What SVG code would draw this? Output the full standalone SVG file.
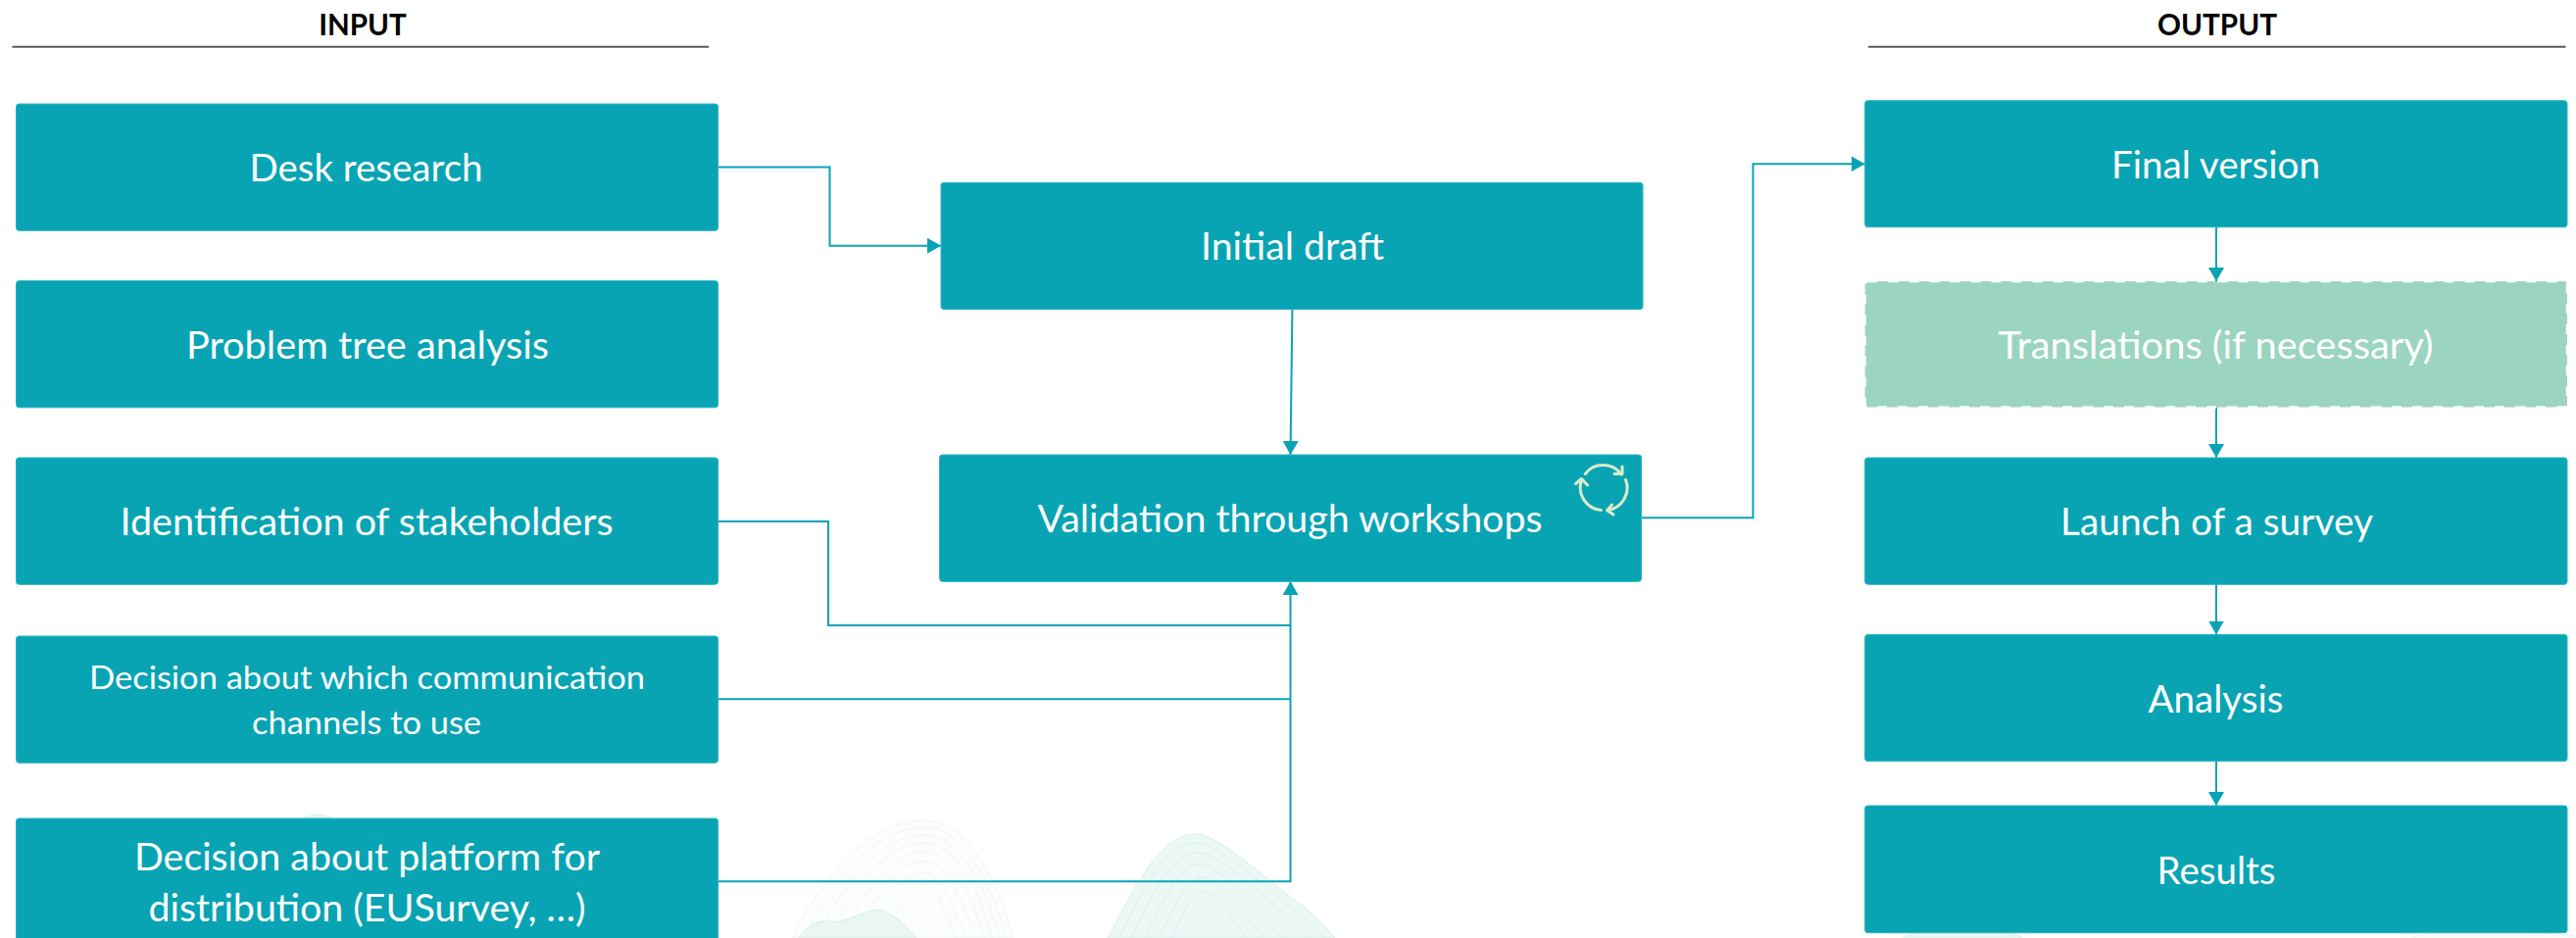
<svg xmlns="http://www.w3.org/2000/svg" width="2628" height="957" viewBox="0 0 2628 957">
<style>
.box{fill:#09a4b4;stroke:#2bb3c1;stroke-width:1}
.soft{fill:#9bd5c0;stroke:#ffffff;stroke-width:2.5;stroke-dasharray:10 11}
.lbl{font-family:"Lato","Carlito","Liberation Sans",sans-serif;font-weight:400;font-size:38px;fill:#ffffff;text-anchor:middle}
.sm{font-size:33px}
.hd{font-family:"Lato","Liberation Sans",sans-serif;font-weight:700;font-size:30px;fill:#000000;text-anchor:middle}
.rule{stroke:#595959;stroke-width:2;fill:none}
.cn{fill:none;stroke:#09a4b4;stroke-width:2}
.ah{fill:#09a4b4}
.hill1{fill:none;stroke:#eef6f3;stroke-width:1}
.hill2{fill:none;stroke:#d9f0ec;stroke-width:1}
.fill1{fill:#fcfefd;stroke:#eef6f3;stroke-width:1}
.fill2{fill:#ecf8f5;stroke:#d9f0ec;stroke-width:1}
.fill3{fill:#e9f6f4;stroke:#d6eeea;stroke-width:1}
.loop{fill:none;stroke:#dcebc6;stroke-width:3;stroke-linecap:round;stroke-linejoin:round}
</style>
<defs>
<marker id="arr" markerUnits="userSpaceOnUse" markerWidth="15" markerHeight="16" refX="14" refY="8" orient="auto"><path class="ah" d="M0 0L14 8L0 16Z"/></marker>
</defs>
<g id="background">
<path class="fill1" d="M808 957C835 900 885 837 942 837C985 837 1015 890 1034 957Z"/>
<path class="hill1" d="M820 957C848 903 890 844 942 844C982 844 1009 895 1027 957"/>
<path class="hill1" d="M832 957C858 908 895 852 942 852C979 852 1003 900 1020 957"/>
<path class="hill1" d="M845 957C868 913 900 860 942 860C975 860 997 905 1012 957"/>
<path class="hill1" d="M858 957C878 918 905 869 942 869C971 869 990 910 1004 957"/>
<path class="hill1" d="M872 957C888 925 913 879 942 879C966 879 982 918 995 957"/>
<path class="hill1" d="M886 957C900 930 920 890 942 890C960 890 973 925 985 957"/>
<path class="hill1" d="M900 957C912 936 928 902 942 902C955 902 964 932 975 957"/>
<path class="fill3" d="M815 957C822 945 835 938 845 940C860 943 875 932 895 928C910 930 925 945 935 957Z"/>
<path class="fill2" d="M1130 957C1160 900 1185 851 1220 851C1245 851 1300 905 1330 925C1345 938 1355 948 1362 957Z"/>
<path class="hill2" d="M1142 957C1168 903 1190 860 1221 860C1245 860 1295 910 1325 932C1337 941 1346 950 1351 957"/>
<path class="hill2" d="M1154 957C1178 908 1196 870 1222 870C1245 870 1290 915 1318 940C1327 946 1334 952 1339 957"/>
<path class="hill2" d="M1168 957C1188 915 1203 882 1224 882C1242 882 1278 922 1308 957"/>
<path class="hill2" d="M1182 957C1198 925 1210 895 1226 895C1242 895 1266 930 1290 957"/>
<path class="hill2" d="M1196 957C1205 932 1217 910 1228 910C1240 910 1256 935 1272 957"/>
<path class="fill2" d="M310 836C318 830 328 829 340 836Z"/>
<path class="fill2" d="M1942 957C1950 951 1960 950 1990 950C2030 950 2055 951 2063 957Z"/>
<path class="fill1" d="M2460 957C2475 951 2490 950 2530 951C2570 951 2610 952 2628 955L2628 957Z"/>
</g>
<g id="headers">
<g id="input-header"><text class="hd" x="370" y="35.5" textLength="89.5" lengthAdjust="spacingAndGlyphs">INPUT</text><path class="rule" d="M12.5 47.7H723"/></g>
<g id="output-header"><text class="hd" x="2262" y="35.5" textLength="122" lengthAdjust="spacingAndGlyphs">OUTPUT</text><path class="rule" d="M1906 47.7H2617.5"/></g>
</g>
<g id="connectors">
<path class="cn" marker-end="url(#arr)" d="M732.5 170.5H846.5V250.7H960"/>
<path class="cn" marker-end="url(#arr)" d="M1318.4 315.5L1316.5 464"/>
<path class="cn" marker-end="url(#arr)" d="M1674 528.3H1788.4V167.3H1902.6"/>
<path class="cn" marker-end="url(#arr)" d="M732.5 532H845V638H1316.5V593"/>
<path class="cn" d="M732.5 713.3H1316.5"/>
<path class="cn" d="M732.5 899.3H1316.5V638"/>
<path class="cn" marker-end="url(#arr)" d="M2261 232V287"/>
<path class="cn" marker-end="url(#arr)" d="M2261 413V467"/>
<path class="cn" marker-end="url(#arr)" d="M2261 596V647.5"/>
<path class="cn" marker-end="url(#arr)" d="M2261 777V822"/>
</g>
<g id="desk-research"><rect class="box" x="16.5" y="106" width="716" height="129.3" rx="3"/><text class="lbl" x="373.5" y="184.5" textLength="238" lengthAdjust="spacingAndGlyphs">Desk research</text></g>
<g id="problem-tree"><rect class="box" x="16.5" y="286.5" width="716" height="129.3" rx="3"/><text class="lbl" x="375" y="365.7" textLength="370" lengthAdjust="spacingAndGlyphs">Problem tree analysis</text></g>
<g id="stakeholders"><rect class="box" x="16.5" y="467" width="716" height="129.3" rx="3"/><text class="lbl" x="374" y="545.5" textLength="503" lengthAdjust="spacingAndGlyphs">Identification of stakeholders</text></g>
<g id="channels"><rect class="box" x="16.5" y="649" width="716" height="129.3" rx="3"/><text class="lbl sm" x="374.5" y="703" textLength="567" lengthAdjust="spacingAndGlyphs">Decision about which communication</text><text class="lbl sm" x="374" y="748.7" textLength="234" lengthAdjust="spacingAndGlyphs">channels to use</text></g>
<g id="platform"><rect class="box" x="16.5" y="835" width="716" height="129.3" rx="3"/><text class="lbl" x="374.5" y="888" textLength="475" lengthAdjust="spacingAndGlyphs">Decision about platform for</text><text class="lbl" x="374.5" y="940" textLength="446" lengthAdjust="spacingAndGlyphs">distribution (EUSurvey, …)</text></g>
<g id="initial-draft"><rect class="box" x="960" y="186.3" width="716" height="129.3" rx="3"/><text class="lbl" x="1318.5" y="265" textLength="187" lengthAdjust="spacingAndGlyphs">Initial draft</text></g>
<g id="validation"><rect class="box" x="958.5" y="464" width="716" height="129.3" rx="3"/><text class="lbl" x="1316" y="542.7" textLength="515" lengthAdjust="spacingAndGlyphs">Validation through workshops</text>
<g id="loop-icon" class="loop"><path d="M1617.3 483.5A23 23 0 0 1 1654 484"/><path d="M1655 476V483.5H1647"/><path d="M1658.5 489.5A23 23 0 0 1 1640 520.5"/><path d="M1644.5 515L1639.5 520.7L1646 525"/><path d="M1633.5 520.5A23 23 0 0 1 1613.5 490"/><path d="M1607.5 493.5L1613.5 488.5L1619.5 495"/></g></g>
<g id="final-version"><rect class="box" x="1902.6" y="102.7" width="716.4" height="129" rx="3"/><text class="lbl" x="2260.5" y="181.7" textLength="213" lengthAdjust="spacingAndGlyphs">Final version</text></g>
<g id="translations"><rect class="soft" x="1902.6" y="287" width="716.4" height="128.5" rx="3"/><text class="lbl" x="2260.5" y="365.7" textLength="444" lengthAdjust="spacingAndGlyphs">Translations (if necessary)</text></g>
<g id="launch"><rect class="box" x="1902.6" y="467" width="716.4" height="129.3" rx="3"/><text class="lbl" x="2261.5" y="545.7" textLength="319" lengthAdjust="spacingAndGlyphs">Launch of a survey</text></g>
<g id="analysis"><rect class="box" x="1902.6" y="647.4" width="716.4" height="129.3" rx="3"/><text class="lbl" x="2260.5" y="726.7" textLength="138" lengthAdjust="spacingAndGlyphs">Analysis</text></g>
<g id="results"><rect class="box" x="1902.6" y="822" width="716.4" height="129.7" rx="3"/><text class="lbl" x="2261" y="901.7" textLength="121" lengthAdjust="spacingAndGlyphs">Results</text></g>
</svg>
